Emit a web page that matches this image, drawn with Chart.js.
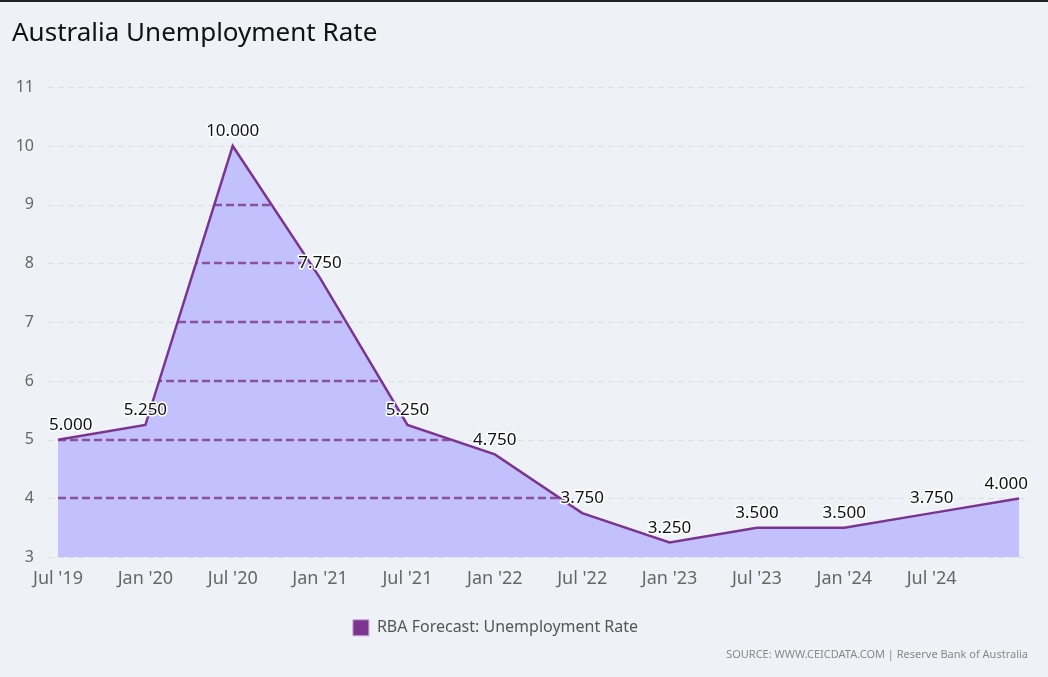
<!DOCTYPE html>
<html>
<head>
<meta charset="utf-8">
<script src="https://cdn.jsdelivr.net/npm/chart.js@4.4.1/dist/chart.umd.min.js"></script>
<style>
  html, body { margin: 0; padding: 0; background: #eef2f7; }
  #wrap { position: relative; width: 1048px; height: 677px; box-sizing: border-box; border-top: 2px solid #222; }
  canvas { display: block; }
</style>
</head>
<body>
<div id="wrap"><canvas id="myChart" width="1048" height="675"></canvas></div>
<script>
// chart data
var categories = ["Jul '19", "Jan '20", "Jul '20", "Jan '21", "Jul '21", "Jan '22", "Jul '22", "Jan '23", "Jul '23", "Jan '24", "Jul '24", "Jan '25"];
var rbaForecast = [5.0, 5.25, 10.0, 7.75, 5.25, 4.75, 3.75, 3.25, 3.5, 3.5, 3.75, 4.0];
var yTicks = [3, 4, 5, 6, 7, 8, 9, 10, 11];
var seriesName = 'RBA Forecast: Unemployment Rate';
var chartTitle = 'Australia Unemployment Rate';
var sourceText = 'SOURCE: WWW.CEICDATA.COM | Reserve Bank of Australia';

var FONT = '"Noto Sans", "Open Sans", sans-serif';
var lineColor = '#7b3590';
var fillColor = '#c2c0fd';

// dashed grid, light outside the area and dark purple where the area covers it
var areaGrid = {
	id: 'areaGrid',
	afterLayout: function (chart) {
		// nudge legend a bit left and the source note to the right edge
		chart.boxes.forEach(function (b) {
			if (b === chart.legend) {
				b.left -= 20;
				b.right -= 20;
			} else if (b.options && b.options.text === sourceText) {
				b.left += 9;
				b.right += 9;
			}
		});
	},
	beforeDatasetsDraw: function (chart) {
		var ctx = chart.ctx, area = chart.chartArea, y = chart.scales.y;
		ctx.save();
		ctx.strokeStyle = '#dcdfe4';
		ctx.lineWidth = 1;
		ctx.setLineDash([6, 4]);
		yTicks.forEach(function (t) {
			var py = Math.round(y.getPixelForValue(t)) + 0.5;
			ctx.beginPath();
			ctx.moveTo(area.left - 10, py);
			ctx.lineTo(area.right + 11, py);
			ctx.stroke();
		});
		ctx.restore();
	},
	beforeDatasetDraw: function (chart, args) {
		var ctx = chart.ctx, area = chart.chartArea, y = chart.scales.y;
		var pts = args.meta.data;
		ctx.save();
		ctx.beginPath();
		ctx.moveTo(pts[0].x, area.bottom);
		for (var i = 0; i < pts.length; i++) {
			ctx.lineTo(pts[i].x, pts[i].y);
		}
		ctx.lineTo(pts[pts.length - 1].x, area.bottom);
		ctx.closePath();
		ctx.clip();
		ctx.strokeStyle = '#8a5299';
		ctx.lineWidth = 2.5;
		ctx.setLineDash([8, 4]);
		yTicks.forEach(function (t) {
			if (t === yTicks[0]) return;
			var py = Math.round(y.getPixelForValue(t));
			ctx.beginPath();
			ctx.moveTo(area.left, py);
			ctx.lineTo(area.right, py);
			ctx.stroke();
		});
		ctx.restore();
	},
	afterDatasetsDraw: function (chart) {
		// value labels above points
		var ctx = chart.ctx, area = chart.chartArea;
		var pts = chart.getDatasetMeta(0).data;
		ctx.save();
		ctx.font = '17px ' + FONT;
		ctx.textAlign = 'center';
		ctx.textBaseline = 'bottom';
		ctx.lineJoin = 'round';
		for (var i = 0; i < pts.length; i++) {
			var txt = rbaForecast[i].toFixed(3);
			var w = ctx.measureText(txt).width;
			var x = pts[i].x;
			x = Math.max(x, area.left - 9 + w / 2);
			x = Math.min(x, area.right + 9 - w / 2);
			ctx.strokeStyle = '#ffffff';
			ctx.lineWidth = 3;
			ctx.strokeText(txt, x, pts[i].y - 6);
			ctx.fillStyle = '#111111';
			ctx.fillText(txt, x, pts[i].y - 6);
		}
		ctx.restore();
	}
};

var $chart = document.getElementById('myChart');
var myChart = new Chart($chart, {
	type: 'line',
	data: {
		labels: categories,
		datasets: [{
			label: seriesName,
			data: rbaForecast,
			borderColor: lineColor,
			backgroundColor: fillColor,
			borderWidth: 2.5,
			fill: 'start',
			tension: 0,
			pointRadius: 0
		}]
	},
	options: {
		responsive: false,
		animation: false,
		layout: { padding: { left: 12, right: 29, top: 0, bottom: 6 } },
		scales: {
			x: {
				offset: false,
				grid: { display: false },
				border: { display: false },
				ticks: {
					autoSkip: false,
					maxRotation: 0,
					color: '#666',
					font: { family: FONT, size: 18 },
					padding: 3,
					callback: function (val, i) {
						// last point has no label in the original
						return i === categories.length - 1 ? '' : categories[i];
					}
				}
			},
			y: {
				min: 3,
				max: 11,
				afterFit: function (axis) { axis.width = 46; },
				grid: { display: false },
				border: { display: false },
				ticks: {
					stepSize: 1,
					color: '#666',
					font: { family: FONT, size: 16 },
					crossAlign: 'near',
					padding: 16
				}
			}
		},
		plugins: {
			title: {
				display: true,
				text: chartTitle,
				align: 'start',
				color: '#111',
				font: { family: FONT, size: 26, weight: 'normal' },
				padding: { top: 16, bottom: 38 }
			},
			subtitle: {
				display: true,
				text: sourceText,
				position: 'bottom',
				align: 'end',
				color: '#888',
				font: { family: FONT, size: 11 },
				padding: { top: 2, bottom: 10 }
			},
			legend: {
				position: 'bottom',
				labels: {
					color: '#555',
					font: { family: FONT, size: 16 },
					boxWidth: 16,
					boxHeight: 16,
					padding: 27,
					generateLabels: function (chart) {
						var items = Chart.defaults.plugins.legend.labels.generateLabels(chart);
						items.forEach(function (it) {
							it.fillStyle = lineColor;
							it.strokeStyle = '#c9a4d6';
							it.lineWidth = 1;
						});
						return items;
					}
				}
			},
			tooltip: { enabled: false }
		}
	},
	plugins: [areaGrid]
});
</script>
</body>
</html>
